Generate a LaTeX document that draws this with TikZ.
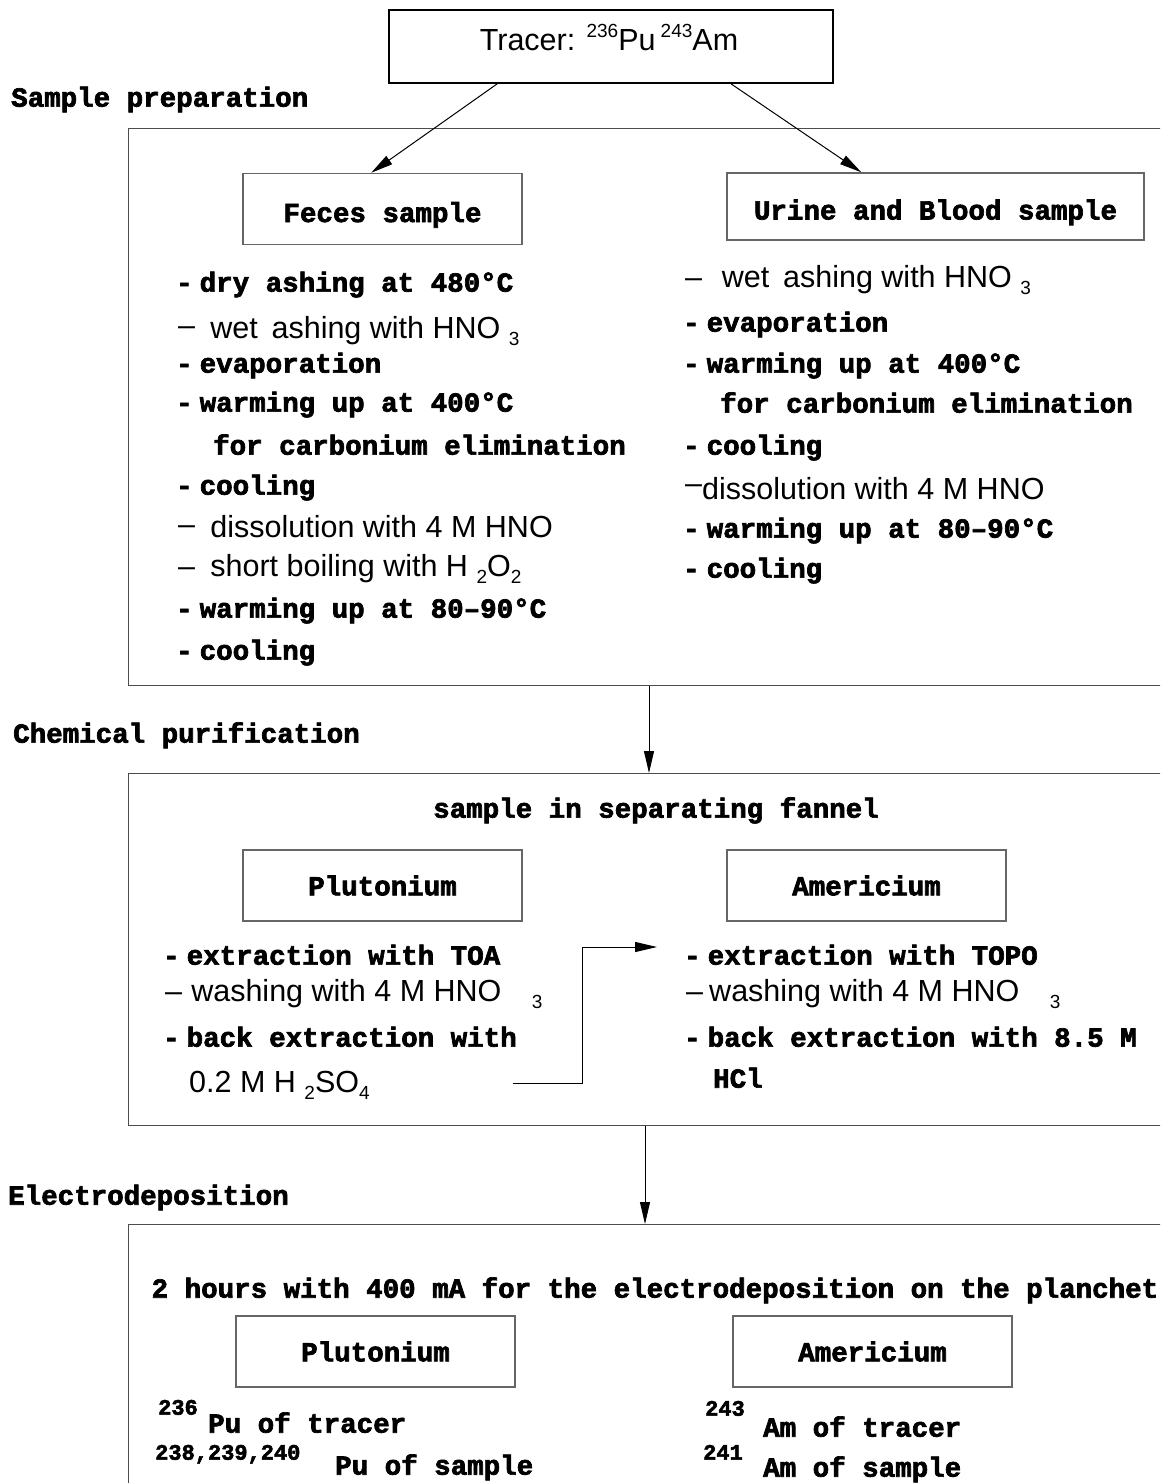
\documentclass[tikz,border=0pt]{standalone}
\usepackage{fontspec}
\setmainfont{Liberation Sans}
\setmonofont{Liberation Mono}[BoldFeatures={FakeBold=2.5}]
\usetikzlibrary{arrows.meta}

% small raised / lowered figures for isotopes and formulas
\newcommand\uptxt[1]{\raisebox{0.42em}{\fontsize{19}{19}\selectfont #1}}
\newcommand\lowtxt[1]{\raisebox{-0.22em}{\fontsize{19}{19}\selectfont #1}}
\newcommand\hs{\hspace{7pt}}

\tikzset{
  mono/.style={font=\fontsize{27.5}{30}\selectfont\ttfamily\bfseries, inner sep=0pt},
  monosmall/.style={font=\fontsize{22}{24}\selectfont\ttfamily\bfseries, inner sep=0pt, anchor=mid west, yshift=-5pt},
  sans/.style={font=\fontsize{30.5}{33}\selectfont, inner sep=0pt},
  item/.style={mono, anchor=mid west, yshift=-7pt},
  sitem/.style={sans, anchor=mid west, yshift=-7pt},
  head/.style={mono, anchor=mid west, yshift=-7pt},
  title/.style={mono, anchor=mid, yshift=-7pt},
  sect/.style={draw=black!70, line width=1.3pt, anchor=north west, inner sep=0pt, minimum width=1100pt},
  inbox/.style={draw=black!60, line width=1.5pt, inner sep=0pt, mono, minimum width=279pt, minimum height=71pt},
  arr/.style={-{Triangle[length=22pt,width=10pt]}, line width=1pt},
}

\begin{document}
\begin{tikzpicture}[x=1pt,y=-1pt]
\clip (0,0) rectangle (1160,1483);
\fill[white] (0,0) rectangle (1160,1483);

% ---------- tracer ----------
\node[draw=black, line width=1.8pt, minimum width=444pt, minimum height=73pt, inner sep=0pt] (tracer) at (611,46.5) {};
\node[sans, anchor=base] (tracerlbl) at (609,50) {Tracer: \uptxt{236}Pu\,\uptxt{243}Am};

% ---------- sample preparation ----------
\node[head] (h1) at (11,97) {Sample preparation};
\node[sect, minimum height=557pt] (prep) at (128,128) {};

\node[inbox, text height=33pt, text depth=7pt] (feces) at (382.5,209) {Feces sample};
\node[inbox, text height=33pt, text depth=7pt, minimum width=417pt, minimum height=67pt] (urine) at (935.5,206.5) {Urine and Blood sample};

\draw[arr] ([xshift=109pt]tracer.south west) -- ([xshift=129pt]feces.north west);
\draw[arr] ([xshift=343pt]tracer.south west) -- ([xshift=135pt]urine.north west);

% feces treatment
\node[item]  (l1)  at (176,282) {-\hs dry ashing at 480°C};
\node[sitem] (l2)  at (178,329) {\raisebox{0.1em}{–}\hspace{0.5em}wet\hspace{0.45em}ashing with HNO \lowtxt{3}};
\node[item]  (l3)  at (176,363) {-\hs evaporation};
\node[item]  (l4)  at (176,402) {-\hs warming up at 400°C};
\node[item]  (l5)  at (213,445) {for carbonium elimination};
\node[item]  (l6)  at (176,485) {-\hs cooling};
\node[sitem] (l7)  at (178,528) {\raisebox{0.1em}{–}\hspace{0.5em}dissolution with 4 M HNO};
\node[sitem] (l8)  at (178,567) {–\hspace{0.5em}short boiling with H \lowtxt{2}O\lowtxt{2}};
\node[item]  (l9)  at (176,608) {-\hs warming up at 80–90°C};
\node[item]  (l10) at (176,650) {-\hs cooling};

% urine and blood treatment
\node[sitem] (r1) at (685,278) {–\hspace{0.65em}wet\hspace{0.45em}ashing with HNO \lowtxt{3}};
\node[item]  (r2) at (683,322) {-\hs evaporation};
\node[item]  (r3) at (683,363) {-\hs warming up at 400°C};
\node[item]  (r4) at (720,403) {for carbonium elimination};
\node[item]  (r5) at (683,445) {-\hs cooling};
\node[sitem] (r6) at (685,490) {\raisebox{0.2em}{–}dissolution with 4 M HNO};
\node[item]  (r7) at (683,528) {-\hs warming up at 80–90°C};
\node[item]  (r8) at (683,568) {-\hs cooling};

% ---------- chemical purification ----------
\node[head] (h2) at (13,733) {Chemical purification};
\node[sect, minimum height=352pt] (purif) at (128,773) {};
\draw[arr] ([xshift=521pt]prep.south west) -- ([xshift=521pt]purif.north west);

\node[title] (funnel) at (656,808) {sample in separating fannel};
\node[inbox] (pu1) at (382.5,885.5) {Plutonium};
\node[inbox] (am1) at (866.5,885.5) {Americium};

\node[item]  (c1) at (163,955)  {-\hs extraction with TOA};
\node[sitem] (c2) at (165,992)  {–\hspace{0.3em}washing with 4 M HNO\hspace{1em}\lowtxt{3}};
\node[item]  (c3) at (163,1037) {-\hs back extraction with};
\node[sitem] (c4) at (189,1083) {0.2 M H \lowtxt{2}SO\lowtxt{4}};

\node[item]  (d1) at (684,955)  {-\hs extraction with TOPO};
\node[sitem] (d2) at (686,992)  {–\hspace{0.2em}washing with 4 M HNO\hspace{1em}\lowtxt{3}};
\node[item]  (d3) at (684,1037) {-\hs back extraction with 8.5 M};
\node[item]  (d4) at (713,1078) {HCl};

% transfer of the Pu fraction towards the Am column
\coordinate (e0) at (513,1083);
\coordinate (e1) at (657,947);
\draw[arr] (e0) -- ++(69,0) |- (e1);

% ---------- electrodeposition ----------
\node[head] (h3) at (8,1195) {Electrodeposition};
\node[sect, minimum height=400pt] (elec) at (128,1224) {};
\draw[arr] ([xshift=517pt]purif.south west) -- ([xshift=517pt]elec.north west);

\node[title] (cond) at (655,1288) {2 hours with 400 mA for the electrodeposition on the planchet};
\node[inbox] (pu2) at (375.5,1351.5) {Plutonium};
\node[inbox] (am2) at (872.5,1351.5) {Americium};

\node[monosmall] (s1) at (158,1407) {236};
\node[item]      (t1) at (208,1423) {Pu of tracer};
\node[monosmall] (s2) at (155,1452) {238,239,240};
\node[item]      (t2) at (335,1465) {Pu of sample};
\node[monosmall] (s3) at (705,1408) {243};
\node[item]      (t3) at (763,1427) {Am of tracer};
\node[monosmall] (s4) at (703,1452) {241};
\node[item]      (t4) at (763,1467) {Am of sample};
\end{tikzpicture}
\end{document}
